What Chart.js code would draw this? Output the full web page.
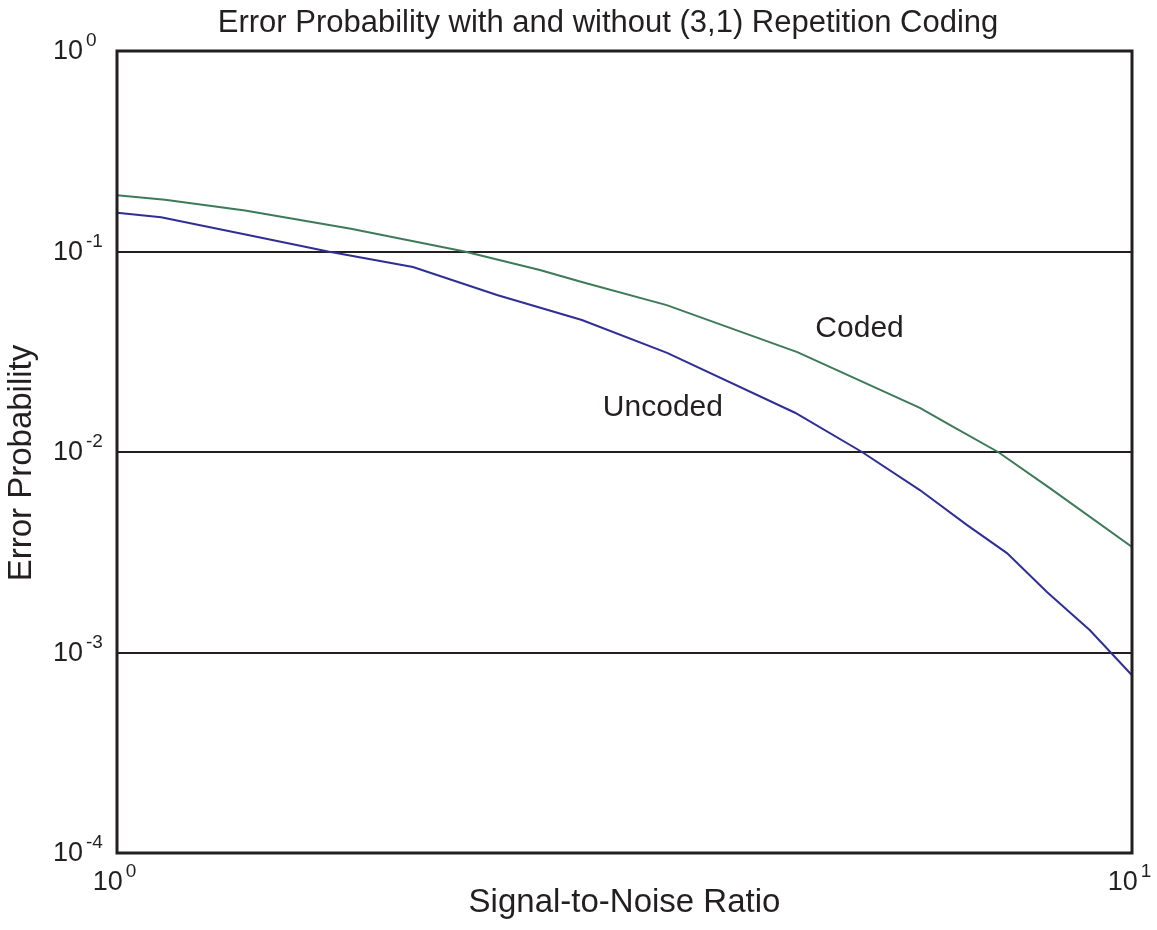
<!DOCTYPE html>
<html>
<head>
<meta charset="utf-8">
<script src="https://cdn.jsdelivr.net/npm/chart.js@4"></script>
<style>
  body{margin:0;background:#fff;}
  #wrap{position:relative;width:1157px;height:930px;}
</style>
</head>
<body>
<div id="wrap"><canvas id="chart" width="1157" height="930"></canvas></div>
<script>
// values
const snrUncoded = [1.00, 1.105, 1.346, 1.614, 1.957, 2.368, 2.871, 3.483, 4.656, 5.42, 6.18, 6.88, 7.53, 8.25, 9.09, 10.0];
const pUncoded   = [0.156, 0.148, 0.121, 0.100, 0.0837, 0.0607, 0.0455, 0.0312, 0.0157, 0.0100, 0.00646, 0.00432, 0.00313, 0.00200, 0.00129, 0.00077];

const snrCoded = [1.00, 1.115, 1.337, 1.70, 2.20, 2.61, 2.87, 3.48, 4.68, 5.12, 6.18, 6.62, 7.38, 8.30, 10.0];
const pCoded   = [0.191, 0.181, 0.160, 0.130, 0.100, 0.0809, 0.0705, 0.054, 0.0315, 0.0256, 0.0166, 0.0136, 0.0100, 0.0066, 0.00336];

const xTicks = [1, 10];
const yTicks = [1e-4, 1e-3, 1e-2, 1e-1, 1];
const xTickExp = ["0", "1"];
const yTickExp = ["-4", "-3", "-2", "-1", "0"];

// curve labels, anchored in data space
const curveLabels = [
  {text: "Coded", x: 5.39, y: 0.0413},
  {text: "Uncoded", x: 3.45, y: 0.0167}
];

const titleText = "Error Probability with and without (3,1) Repetition Coding";
const xTitle = "Signal-to-Noise Ratio";
const yTitle = "Error Probability";

const FONT = "'Liberation Sans', Arial, Helvetica, sans-serif";
const TEXT_COLOR = "#231f20";

function toPoints(xs, ys){
  return xs.map((x,i)=>({x:x, y:ys[i]}));
}

function powWidth(ctx, exp){
  ctx.font = `27px ${FONT}`;
  let baseW = ctx.measureText("10").width;
  ctx.font = `19px ${FONT}`;
  return baseW + 4 + ctx.measureText(exp).width;
}

function drawPow(ctx, left, y, exp){
  // "10" with a raised exponent, starting at left
  ctx.textAlign = "left";
  ctx.textBaseline = "middle";
  ctx.font = `27px ${FONT}`;
  let baseW = ctx.measureText("10").width;
  ctx.fillText("10", left, y);
  ctx.font = `19px ${FONT}`;
  ctx.fillText(exp, left + baseW + 3, y - 11);
}

const textPlugin = {
  id: "textPlugin",
  afterDraw(chart){
    const ctx = chart.ctx;
    const area = chart.chartArea;
    const xs = chart.scales.x;
    const ys = chart.scales.y;
    ctx.save();

    // frame
    ctx.strokeStyle = "#231f20";
    ctx.lineWidth = 3;
    ctx.strokeRect(area.left, area.top, area.right-area.left, area.bottom-area.top);

    ctx.fillStyle = TEXT_COLOR;

    // y tick labels, the "10" parts line up on the left
    yTicks.forEach((v,i)=>{
      drawPow(ctx, area.left - 64, ys.getPixelForValue(v) + 1, yTickExp[i]);
    });
    // x tick labels, centred on the tick
    xTicks.forEach((v,i)=>{
      let w = powWidth(ctx, xTickExp[i]);
      drawPow(ctx, xs.getPixelForValue(v) - w/2 - 2, area.bottom + 30, xTickExp[i]);
    });

    ctx.textAlign = "center";
    ctx.textBaseline = "middle";

    // title
    ctx.font = `31px ${FONT}`;
    ctx.fillText(titleText, 608, 23);

    // x title
    ctx.font = `33px ${FONT}`;
    ctx.fillText(xTitle, (area.left+area.right)/2, 903);

    // y title
    ctx.save();
    ctx.font = `33px ${FONT}`;
    ctx.translate(22, (area.top+area.bottom)/2 + 11);
    ctx.rotate(-Math.PI/2);
    ctx.fillText(yTitle, 0, 0);
    ctx.restore();

    // curve labels
    ctx.font = `30px ${FONT}`;
    curveLabels.forEach(l=>{
      ctx.fillText(l.text, xs.getPixelForValue(l.x), ys.getPixelForValue(l.y));
    });

    ctx.restore();
  }
};

new Chart(document.getElementById("chart"), {
  type: "line",
  data: {
    datasets: [
      {
        label: "Coded",
        data: toPoints(snrCoded, pCoded),
        borderColor: "#3d7b58",
        borderWidth: 2,
        pointRadius: 0,
        tension: 0,
        fill: false
      },
      {
        label: "Uncoded",
        data: toPoints(snrUncoded, pUncoded),
        borderColor: "#2e2e96",
        borderWidth: 2,
        pointRadius: 0,
        tension: 0,
        fill: false
      }
    ]
  },
  options: {
    responsive: false,
    animation: false,
    layout: {padding: {left: 117, right: 25, top: 51, bottom: 77}},
    plugins: {
      legend: {display: false},
      tooltip: {enabled: false}
    },
    scales: {
      x: {
        type: "logarithmic",
        min: 1,
        max: 10,
        afterBuildTicks: (scale)=>{ scale.ticks = xTicks.map(v=>({value:v})); },
        ticks: {display: false},
        grid: {display: false, drawTicks: false},
        border: {display: false}
      },
      y: {
        type: "logarithmic",
        min: 1e-4,
        max: 1,
        afterBuildTicks: (scale)=>{ scale.ticks = yTicks.map(v=>({value:v})); },
        ticks: {display: false},
        grid: {color: "#231f20", lineWidth: 2, drawTicks: false},
        border: {display: false}
      }
    }
  },
  plugins: [textPlugin]
});
</script>
</body>
</html>
